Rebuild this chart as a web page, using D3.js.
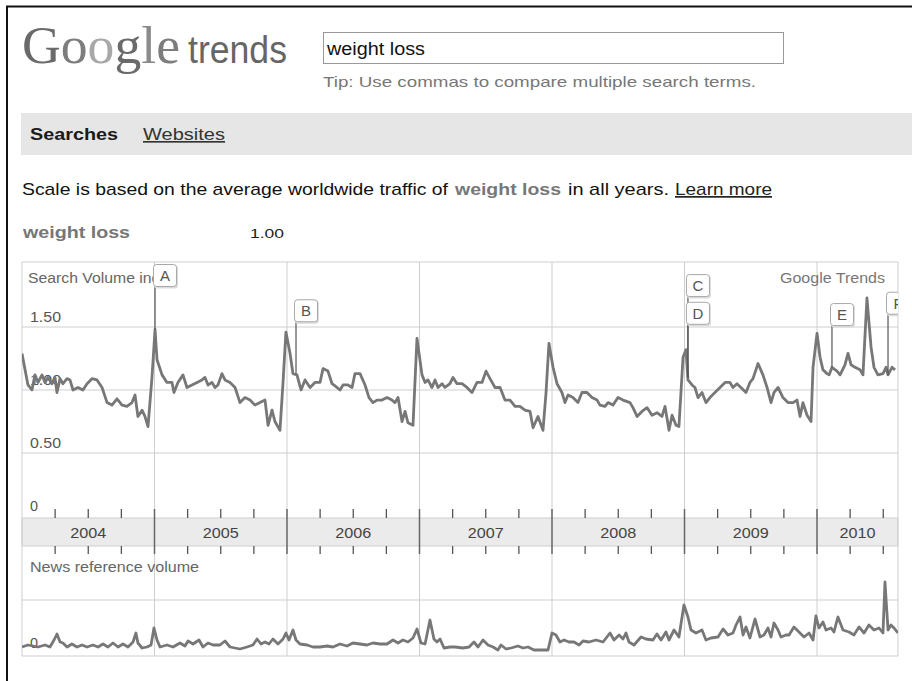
<!DOCTYPE html>
<html>
<head>
<meta charset="utf-8">
<title>Google Trends - weight loss</title>
<script src="https://d3js.org/d3.v7.min.js"></script>
<style>
    body { margin: 0; background: #fff; }
    svg { display: block; font-family: "Liberation Sans", Arial, sans-serif; }
</style>
</head>
<body>
<div id="container"></div>
<script>
    //----------------------------DATA-------------------------------//
    // [decimal year, search volume index]
    const searchData = [
        [2004.000,1.29],[2004.023,1.16],[2004.045,1.04],[2004.075,1.00],[2004.098,1.12],[2004.121,1.06],
        [2004.151,1.12],[2004.174,1.06],[2004.196,1.10],[2004.226,1.05],[2004.249,1.10],[2004.264,0.98],
        [2004.287,1.09],[2004.309,1.05],[2004.340,1.09],[2004.362,1.08],[2004.385,1.00],[2004.423,1.02],
        [2004.460,1.00],[2004.491,1.05],[2004.528,1.09],[2004.566,1.08],[2004.604,1.02],[2004.642,0.90],
        [2004.679,0.88],[2004.717,0.93],[2004.755,0.88],[2004.792,0.87],[2004.830,0.90],[2004.853,0.96],
        [2004.875,0.79],[2004.906,0.84],[2004.928,0.79],[2004.951,0.71],[2004.981,1.10],[2005.004,1.48],
        [2005.019,1.24],[2005.057,1.12],[2005.094,1.06],[2005.132,1.06],[2005.147,0.98],[2005.177,1.06],
        [2005.215,1.12],[2005.245,1.02],[2005.283,1.04],[2005.321,1.06],[2005.358,1.08],[2005.381,1.10],
        [2005.404,1.04],[2005.434,1.06],[2005.457,1.02],[2005.479,1.04],[2005.509,1.13],[2005.532,1.08],
        [2005.570,1.06],[2005.608,1.02],[2005.645,0.90],[2005.683,0.94],[2005.721,0.92],[2005.758,0.88],
        [2005.796,0.90],[2005.834,0.92],[2005.857,0.72],[2005.887,0.84],[2005.909,0.75],[2005.947,0.68],
        [2005.970,1.06],[2005.992,1.46],[2006.023,1.29],[2006.045,1.13],[2006.075,1.12],[2006.106,1.00],
        [2006.136,1.08],[2006.174,1.02],[2006.211,1.06],[2006.249,1.06],[2006.272,1.17],[2006.309,1.15],
        [2006.340,1.05],[2006.377,1.02],[2006.400,1.00],[2006.423,1.04],[2006.460,1.04],[2006.491,1.02],
        [2006.513,1.13],[2006.551,1.13],[2006.589,1.04],[2006.619,0.94],[2006.649,0.90],[2006.679,0.92],
        [2006.717,0.92],[2006.755,0.94],[2006.792,0.92],[2006.815,0.90],[2006.838,0.94],[2006.868,0.75],
        [2006.891,0.83],[2006.913,0.74],[2006.951,0.72],[2006.981,1.41],[2007.019,1.12],[2007.042,1.06],
        [2007.064,1.08],[2007.094,1.02],[2007.117,1.08],[2007.140,1.02],[2007.170,1.05],[2007.192,1.02],
        [2007.230,1.05],[2007.253,1.10],[2007.283,1.05],[2007.321,1.05],[2007.358,1.02],[2007.396,0.98],
        [2007.434,1.06],[2007.472,1.06],[2007.502,1.15],[2007.532,1.09],[2007.570,1.02],[2007.608,1.02],
        [2007.645,0.92],[2007.683,0.92],[2007.721,0.87],[2007.758,0.87],[2007.796,0.84],[2007.834,0.83],
        [2007.857,0.70],[2007.894,0.79],[2007.932,0.68],[2007.955,0.98],[2007.977,1.37],[2008.008,1.18],
        [2008.038,1.05],[2008.075,0.98],[2008.098,0.90],[2008.121,0.96],[2008.158,0.94],[2008.196,0.90],
        [2008.226,0.98],[2008.264,0.98],[2008.302,0.94],[2008.340,0.92],[2008.362,0.88],[2008.400,0.87],
        [2008.423,0.90],[2008.460,0.88],[2008.498,0.94],[2008.536,0.92],[2008.589,0.90],[2008.611,0.86],
        [2008.642,0.79],[2008.679,0.83],[2008.717,0.86],[2008.755,0.80],[2008.792,0.82],[2008.830,0.79],
        [2008.853,0.87],[2008.883,0.68],[2008.906,0.80],[2008.936,0.72],[2008.958,0.71],[2008.989,1.26],
        [2009.011,1.32],[2009.026,1.08],[2009.057,1.04],[2009.079,1.02],[2009.102,0.94],[2009.132,0.98],
        [2009.162,0.90],[2009.192,0.94],[2009.230,0.98],[2009.268,1.02],[2009.306,1.06],[2009.343,1.06],
        [2009.366,1.02],[2009.396,1.05],[2009.426,1.02],[2009.464,0.98],[2009.494,1.06],[2009.517,1.09],
        [2009.555,1.21],[2009.592,1.12],[2009.623,1.02],[2009.653,0.90],[2009.675,0.98],[2009.706,1.02],
        [2009.743,0.94],[2009.781,0.90],[2009.819,0.90],[2009.849,0.92],[2009.872,0.79],[2009.894,0.90],
        [2009.925,0.80],[2009.955,0.75],[2009.970,1.18],[2010.000,1.45],[2010.023,1.26],[2010.045,1.16],
        [2010.075,1.13],[2010.091,1.12],[2010.113,1.18],[2010.151,1.15],[2010.174,1.12],[2010.211,1.20],
        [2010.234,1.29],[2010.257,1.20],[2010.287,1.18],[2010.325,1.16],[2010.347,1.12],[2010.377,1.73],
        [2010.408,1.34],[2010.430,1.18],[2010.460,1.12],[2010.498,1.13],[2010.521,1.18],[2010.536,1.12],
        [2010.566,1.18],[2010.589,1.16]
    ];

    // [decimal year, news reference volume]
    const newsData = [
        [2004.000,0.06],[2004.045,0.10],[2004.083,0.08],[2004.121,0.06],[2004.174,0.10],[2004.211,0.06],
        [2004.242,0.20],[2004.264,0.32],[2004.287,0.16],[2004.309,0.14],[2004.340,0.06],[2004.377,0.12],
        [2004.415,0.06],[2004.453,0.10],[2004.491,0.06],[2004.536,0.10],[2004.574,0.06],[2004.611,0.12],
        [2004.649,0.06],[2004.687,0.14],[2004.725,0.06],[2004.762,0.12],[2004.800,0.06],[2004.838,0.16],
        [2004.860,0.34],[2004.875,0.14],[2004.906,0.04],[2004.943,0.06],[2004.974,0.10],[2004.996,0.44],
        [2005.019,0.20],[2005.042,0.06],[2005.094,0.10],[2005.140,0.06],[2005.192,0.14],[2005.230,0.08],
        [2005.253,0.18],[2005.291,0.12],[2005.336,0.20],[2005.366,0.06],[2005.404,0.14],[2005.442,0.10],
        [2005.494,0.10],[2005.532,0.18],[2005.570,0.06],[2005.608,0.04],[2005.645,0.02],[2005.698,0.06],
        [2005.743,0.10],[2005.774,0.22],[2005.804,0.12],[2005.834,0.16],[2005.864,0.12],[2005.894,0.22],
        [2005.932,0.12],[2005.970,0.22],[2005.992,0.34],[2006.015,0.20],[2006.045,0.40],[2006.068,0.20],
        [2006.098,0.12],[2006.151,0.10],[2006.196,0.06],[2006.249,0.06],[2006.302,0.08],[2006.347,0.06],
        [2006.400,0.12],[2006.453,0.08],[2006.498,0.14],[2006.551,0.12],[2006.604,0.10],[2006.649,0.14],
        [2006.702,0.12],[2006.755,0.12],[2006.800,0.20],[2006.838,0.14],[2006.875,0.20],[2006.913,0.16],
        [2006.951,0.24],[2006.981,0.42],[2007.011,0.14],[2007.042,0.12],[2007.079,0.60],[2007.109,0.22],
        [2007.132,0.16],[2007.155,0.22],[2007.185,0.04],[2007.230,0.06],[2007.268,0.06],[2007.328,0.04],
        [2007.374,0.06],[2007.411,0.16],[2007.442,0.06],[2007.479,0.20],[2007.517,0.10],[2007.555,0.06],
        [2007.592,0.00],[2007.615,0.10],[2007.653,0.02],[2007.691,0.04],[2007.743,0.08],[2007.781,0.04],
        [2007.819,0.06],[2007.864,0.00],[2007.917,0.00],[2007.970,0.00],[2008.000,0.34],[2008.030,0.30],
        [2008.060,0.16],[2008.091,0.20],[2008.128,0.16],[2008.166,0.16],[2008.204,0.10],[2008.234,0.18],
        [2008.279,0.16],[2008.332,0.20],[2008.385,0.16],[2008.438,0.34],[2008.468,0.20],[2008.506,0.30],
        [2008.536,0.22],[2008.558,0.34],[2008.581,0.16],[2008.619,0.10],[2008.672,0.26],[2008.709,0.22],
        [2008.762,0.20],[2008.792,0.32],[2008.823,0.20],[2008.860,0.36],[2008.883,0.20],[2008.921,0.40],
        [2008.958,0.26],[2008.996,0.90],[2009.026,0.66],[2009.049,0.40],[2009.087,0.34],[2009.132,0.40],
        [2009.162,0.20],[2009.200,0.24],[2009.253,0.26],[2009.291,0.42],[2009.328,0.30],[2009.366,0.34],
        [2009.389,0.50],[2009.419,0.66],[2009.442,0.30],[2009.464,0.46],[2009.494,0.24],[2009.532,0.62],
        [2009.570,0.26],[2009.600,0.30],[2009.630,0.44],[2009.653,0.26],[2009.675,0.54],[2009.706,0.40],
        [2009.728,0.26],[2009.766,0.30],[2009.789,0.30],[2009.826,0.46],[2009.864,0.36],[2009.902,0.26],
        [2009.940,0.34],[2009.970,0.20],[2009.992,0.68],[2010.015,0.44],[2010.045,0.56],[2010.068,0.40],
        [2010.106,0.44],[2010.128,0.36],[2010.158,0.66],[2010.196,0.40],[2010.242,0.36],[2010.279,0.30],
        [2010.317,0.46],[2010.355,0.34],[2010.392,0.50],[2010.430,0.40],[2010.468,0.44],[2010.498,0.34],
        [2010.513,1.36],[2010.536,0.40],[2010.558,0.50],[2010.581,0.44],[2010.611,0.34]
    ];

    const years = [2004, 2005, 2006, 2007, 2008, 2009, 2010];
    const yTicks = [1.5, 1.0, 0.5, 0];
    const yTickLabels = ["1.50", "1.00", "0.50", "0"];

    // news annotations: letter, date, value where the flag points, flag height (index units)
    const annLetters = ["A", "B", "C", "D", "E", "F"];
    const annDates   = [2005.004, 2006.068, 2009.026, 2009.026, 2010.113, 2010.536];
    const annValues  = [1.48, 1.13, 1.10, 1.10, 1.18, 1.12];
    const annLevels  = [2.00, 1.72, 1.92, 1.70, 1.69, 1.78];

    //--------------------------LAYOUT-------------------------------//
    const width = 912, height = 681;
    const plot = {left: 22, right: 898, top: 262, bandTop: 518, bandBottom: 546, bottom: 656};
    const endYear = 2010.611;

    const svg = d3.select("#container").append("svg")
        .attr("width", width)
        .attr("height", height);

    function label(g, str, x, y, o) {
        o = o || {};
        const t = g.append("text")
            .attr("x", x).attr("y", y)
            .attr("font-size", o.size || 14)
            .attr("fill", o.color || "#555")
            .attr("text-anchor", o.anchor || "start")
            .text(str);
        if (o.bold) t.attr("font-weight", "bold");
        if (o.family) t.attr("font-family", o.family);
        if (o.width) t.attr("textLength", o.width).attr("lengthAdjust", "spacingAndGlyphs");
        if (o.underline) t.attr("text-decoration", "underline");
        return t;
    }

    //--------------------------HEADER-------------------------------//
    svg.append("path")
        .attr("d", `M7,${height}V6.5H${width}`)
        .attr("fill", "none")
        .attr("stroke", "#111")
        .attr("stroke-width", 2);

    const logo = svg.append("text")
        .attr("x", 22).attr("y", 63)
        .attr("font-family", "'Liberation Serif', 'DejaVu Serif', serif")
        .attr("font-size", 53)
        .attr("textLength", 158)
        .attr("lengthAdjust", "spacingAndGlyphs");
    [["G", "#6a6a6a"], ["o", "#7d7d7d"], ["o", "#a8a8a8"], ["g", "#6a6a6a"], ["l", "#8a8a8a"], ["e", "#7d7d7d"]]
        .forEach(function(p) { logo.append("tspan").attr("fill", p[1]).text(p[0]); });

    label(svg, "trends", 188, 63, {size: 38, color: "#666", width: 99});

    svg.append("rect")
        .attr("x", 323.5).attr("y", 32.5)
        .attr("width", 460).attr("height", 31)
        .attr("fill", "#fff")
        .attr("stroke", "#999");
    label(svg, "weight loss", 327, 55, {size: 18, color: "#111", width: 98});
    label(svg, "Tip: Use commas to compare multiple search terms.", 323, 87, {size: 15, color: "#777", width: 433});

    svg.append("rect")
        .attr("x", 21).attr("y", 113)
        .attr("width", width - 21).attr("height", 42)
        .attr("fill", "#e6e6e6");
    label(svg, "Searches", 30, 140, {size: 16.5, color: "#1a1a1a", bold: true, width: 88});
    label(svg, "Websites", 143, 140, {size: 16.5, color: "#333", width: 82, underline: true});

    label(svg, "Scale is based on the average worldwide traffic of", 22, 195, {size: 17, color: "#111", width: 426});
    label(svg, "weight loss", 455, 195, {size: 17, color: "#777", bold: true, width: 106});
    label(svg, "in all years.", 568, 195, {size: 17, color: "#111", width: 101});
    label(svg, "Learn more", 675, 195, {size: 17, color: "#222", width: 97, underline: true});

    label(svg, "weight loss", 23, 238, {size: 17, color: "#777", bold: true, width: 107});
    label(svg, "1.00", 250, 238, {size: 13, color: "#222", width: 34});

    //----------------------------SCALES-----------------------------//
    const x = d3.scaleLinear().domain([2004, 2010]).range([plot.left, 817]);
    const y = d3.scaleLinear().domain([0, 1.5]).range([516, 327]);
    const yNews = d3.scaleLinear().domain([0, 1]).range([650, 600]);

    svg.append("clipPath").attr("id", "plotclip")
        .append("rect")
        .attr("x", plot.left).attr("y", plot.top)
        .attr("width", x(endYear) - plot.left).attr("height", plot.bottom - plot.top);

    const chart = svg.append("g");
    const grid = "#cfcfcf";

    //----------------------------GRID-------------------------------//
    chart.append("rect")
        .attr("x", plot.left).attr("y", plot.bandTop)
        .attr("width", x(endYear) - plot.left).attr("height", plot.bandBottom - plot.bandTop)
        .attr("fill", "#ebebeb")
        .attr("stroke", grid);

    chart.selectAll(".hgrid")
        .data(yTicks.filter(d => d > 0))
        .enter().append("line")
        .attr("x1", plot.left).attr("x2", x(endYear))
        .attr("y1", d => y(d)).attr("y2", d => y(d))
        .attr("stroke", grid);

    chart.append("line")
        .attr("x1", plot.left).attr("x2", x(endYear))
        .attr("y1", yNews(1)).attr("y2", yNews(1))
        .attr("stroke", grid);

    const inner = years.slice(1);
    chart.selectAll(".vgridTop")
        .data(inner).enter().append("line")
        .attr("x1", d => x(d)).attr("x2", d => x(d))
        .attr("y1", plot.top).attr("y2", plot.bandTop)
        .attr("stroke", grid);
    chart.selectAll(".vgridBottom")
        .data(inner).enter().append("line")
        .attr("x1", d => x(d)).attr("x2", d => x(d))
        .attr("y1", plot.bandBottom).attr("y2", plot.bottom)
        .attr("stroke", grid);

    chart.append("rect")
        .attr("x", plot.left).attr("y", plot.top)
        .attr("width", x(endYear) - plot.left).attr("height", plot.bottom - plot.top)
        .attr("fill", "none")
        .attr("stroke", grid);

    //----------------------------LABELS-----------------------------//
    chart.selectAll(".ylab")
        .data(yTicks).enter().append("text")
        .attr("x", 30).attr("y", d => y(d) - 5)
        .attr("font-size", 14)
        .attr("fill", "#555")
        .attr("textLength", (d, i) => yTickLabels[i].length === 1 ? 8 : 31)
        .attr("lengthAdjust", "spacingAndGlyphs")
        .text((d, i) => yTickLabels[i]);

    label(chart, "Search Volume index", 28, 283, {size: 14, color: "#666", width: 149});
    label(chart, "Google Trends", 885, 283, {size: 14, color: "#777", anchor: "end", width: 105});
    label(chart, "News reference volume", 30, 572, {size: 14, color: "#666", width: 169});
    label(chart, "0", 30, yNews(0) - 2, {size: 14, color: "#555", width: 8});

    chart.selectAll(".year")
        .data(years).enter().append("text")
        .attr("x", d => (x(d) + Math.min(x(d + 1), x(endYear))) / 2)
        .attr("y", 538)
        .attr("text-anchor", "middle")
        .attr("font-size", 14)
        .attr("fill", "#444")
        .attr("textLength", 36)
        .attr("lengthAdjust", "spacingAndGlyphs")
        .text(d => d);

    //----------------------------LINES------------------------------//
    const line = d3.line()
        .x(d => x(d[0]))
        .y(d => y(d[1]));
    const newsLine = d3.line()
        .x(d => x(d[0]))
        .y(d => yNews(d[1]));

    const lines = chart.append("g").attr("clip-path", "url(#plotclip)");
    lines.append("path")
        .datum(searchData)
        .attr("d", line)
        .attr("fill", "none")
        .attr("stroke", "#777")
        .attr("stroke-width", 2.8)
        .attr("stroke-linejoin", "round");
    lines.append("path")
        .datum(newsData)
        .attr("d", newsLine)
        .attr("fill", "none")
        .attr("stroke", "#777")
        .attr("stroke-width", 2.8)
        .attr("stroke-linejoin", "round");

    //----------------------------TICKS------------------------------//
    const quarters = d3.range(2004.25, endYear, 0.25).filter(d => d % 1 !== 0);
    [[plot.bandTop - 9, plot.bandTop], [plot.bandBottom, plot.bandBottom + 8]].forEach(function(r) {
        chart.selectAll(null)
            .data(quarters).enter().append("line")
            .attr("x1", d => x(d)).attr("x2", d => x(d))
            .attr("y1", r[0]).attr("y2", r[1])
            .attr("stroke", "#555")
            .attr("stroke-width", 1.3);
    });
    chart.selectAll(".major")
        .data(inner).enter().append("line")
        .attr("x1", d => x(d)).attr("x2", d => x(d))
        .attr("y1", plot.bandTop - 9).attr("y2", plot.bandBottom + 8)
        .attr("stroke", "#666")
        .attr("stroke-width", 1.5);

    //-------------------------ANNOTATIONS---------------------------//
    const ann = annLetters.map((l, i) => ({l: l, t: annDates[i], v: annValues[i], lv: annLevels[i]}));
    const boxW = 24, boxH = 23;
    const flags = chart.append("g").attr("clip-path", "url(#plotclip)");

    flags.selectAll(".flagline")
        .data(ann).enter().append("line")
        .attr("x1", d => x(d.t)).attr("x2", d => x(d.t))
        .attr("y1", d => y(d.lv) + boxH).attr("y2", d => y(d.v))
        .attr("stroke", "#555")
        .attr("stroke-width", 1.2);

    const box = flags.selectAll(".flag")
        .data(ann).enter().append("g")
        .attr("transform", d => `translate(${x(d.t) - 2},${y(d.lv)})`);
    box.append("rect")
        .attr("x", 1).attr("y", 1.5)
        .attr("width", boxW).attr("height", boxH)
        .attr("rx", 3)
        .attr("fill", "#dcdcdc");
    box.append("rect")
        .attr("x", 0.5).attr("y", 0.5)
        .attr("width", boxW - 1).attr("height", boxH - 1)
        .attr("rx", 3)
        .attr("fill", "#fff")
        .attr("stroke", "#a8a8a8");
    box.append("text")
        .attr("x", boxW / 2).attr("y", 17)
        .attr("text-anchor", "middle")
        .attr("font-size", 15)
        .attr("fill", "#555")
        .text(d => d.l);
</script>
</body>
</html>
